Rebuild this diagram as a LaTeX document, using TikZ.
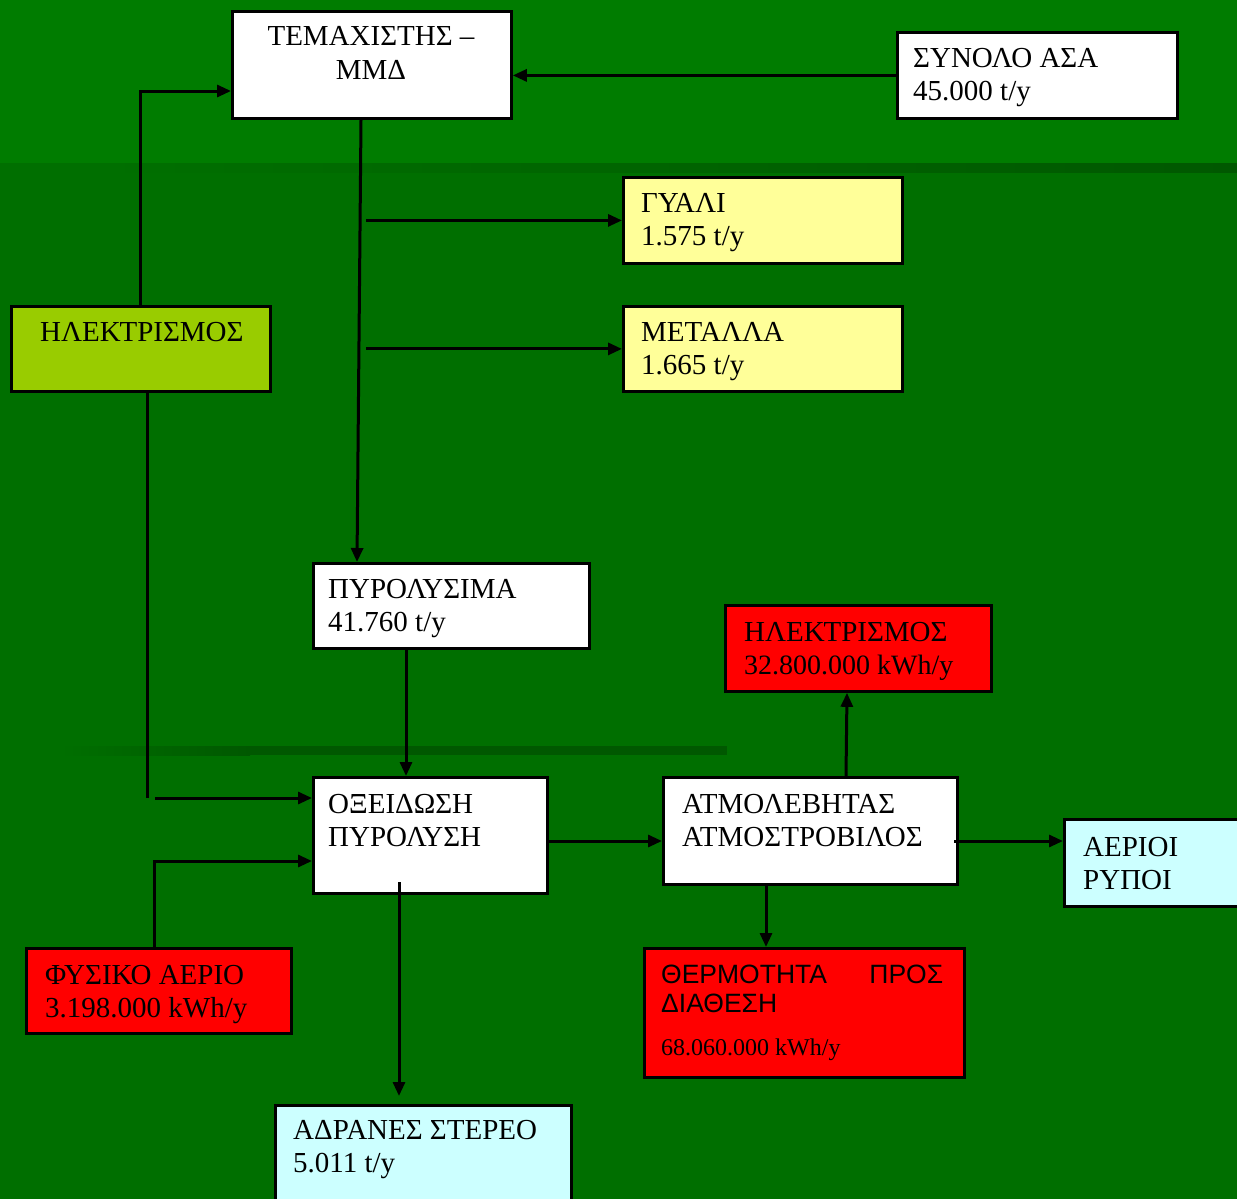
\documentclass[tikz,border=0pt]{standalone}
\usepackage{fontspec}
\setmainfont{Liberation Serif}
\newfontfamily\sansf{Liberation Sans}
\usetikzlibrary{arrows.meta}
\definecolor{topg}{RGB}{0,124,0}
\definecolor{lowg}{RGB}{0,111,0}
\definecolor{darkg}{RGB}{0,88,0}
\definecolor{yel}{RGB}{255,255,153}
\definecolor{lime}{RGB}{153,204,0}
\definecolor{lcyan}{RGB}{204,255,255}
\begin{document}
\begin{tikzpicture}[x=1pt,y=-1pt,
  box/.style={draw=black,line width=2.8pt,anchor=north west,inner sep=0pt},
  conn/.style={line width=3pt,-{Triangle[length=14pt,width=12pt]}},
  plain/.style={line width=3pt},
  txt/.style={anchor=base west,inner sep=0pt,font=\fontsize{29}{34}\selectfont},
  txtc/.style={anchor=base,inner sep=0pt,font=\fontsize{29}{34}\selectfont}]
\useasboundingbox (0,0) rectangle (1237,1199);
% background
\fill[topg] (0,0) rectangle (1237,163);
\fill[lowg] (0,163) rectangle (1237,1199);
\shade[left color=lowg,right color=darkg] (100,163) rectangle (1237,172);
\shade[left color=lowg,right color=darkg] (60,746) rectangle (250,755);
\fill[darkg] (250,746) rectangle (727,755);
% boxes
\node[box,fill=white,minimum width=279pt,minimum height=107pt] (tem) at (231,10) {};
\node[box,fill=white,minimum width=280pt,minimum height=86pt] (sum) at (896,31) {};
\node[box,fill=yel,minimum width=279pt,minimum height=86pt] (gya) at (622,176) {};
\node[box,fill=yel,minimum width=279pt,minimum height=85pt] (met) at (622,305) {};
\node[box,fill=lime,minimum width=259pt,minimum height=85pt] (el) at (10,305) {};
\node[box,fill=white,minimum width=276pt,minimum height=85pt] (pyr) at (312,562) {};
\node[box,fill=red,minimum width=266pt,minimum height=86pt] (elr) at (724,604) {};
\node[box,fill=white,minimum width=234pt,minimum height=116pt] (ox) at (312,776) {};
\node[box,fill=white,minimum width=294pt,minimum height=107pt] (atm) at (662,776) {};
\node[box,fill=lcyan,minimum width=190pt,minimum height=87pt] (aer) at (1063,818) {};
\node[box,fill=red,minimum width=265pt,minimum height=85pt] (fys) at (25,947) {};
\node[box,fill=red,minimum width=320pt,minimum height=129pt] (the) at (643,947) {};
\node[box,fill=lcyan,minimum width=296pt,minimum height=110pt] (adr) at (274,1104) {};
% texts
\node[txtc] (tem1) at (371,46) {ΤΕΜΑΧΙΣΤΗΣ –};
\node[txtc] (tem2) at (371,80) {ΜΜΔ};
\node[txt] (sum1) at (913,67) {ΣΥΝΟΛΟ ΑΣΑ};
\node[txt] (sum2) at (913,100) {45.000 t/y};
\node[txt] (gya1) at (641,212) {ΓΥΑΛΙ};
\node[txt] (gya2) at (641,245) {1.575 t/y};
\node[txt] (met1) at (641,341) {ΜΕΤΑΛΛΑ};
\node[txt] (met2) at (641,374) {1.665 t/y};
\node[txt] (el1) at (40,341) {ΗΛΕΚΤΡΙΣΜΟΣ};
\node[txt] (pyr1) at (328,598) {ΠΥΡΟΛΥΣΙΜΑ};
\node[txt] (pyr2) at (328,631) {41.760 t/y};
\node[txt] (elr1) at (744,641) {ΗΛΕΚΤΡΙΣΜΟΣ};
\node[txt,font=\fontsize{28}{34}\selectfont] (elr2) at (744,674) {32.800.000 kWh/y};
\node[txt] (ox1) at (328,813) {ΟΞΕΙΔΩΣΗ};
\node[txt] (ox2) at (328,846) {ΠΥΡΟΛΥΣΗ};
\node[txt] (atm1) at (682,813) {ΑΤΜΟΛΕΒΗΤΑΣ};
\node[txt] (atm2) at (682,846) {ΑΤΜΟΣΤΡΟΒΙΛΟΣ};
\node[txt] (aer1) at (1083,856) {ΑΕΡΙΟΙ};
\node[txt] (aer2) at (1083,889) {ΡΥΠΟΙ};
\node[txt] (fys1) at (45,984) {ΦΥΣΙΚΟ ΑΕΡΙΟ};
\node[txt] (fys2) at (45,1017) {3.198.000 kWh/y};
\node[txt,font=\sansf\fontsize{26.5}{30}\selectfont,text width=282pt,align=left] (the1) at (661,983) {ΘΕΡΜΟΤΗΤΑ\hfill ΠΡΟΣ};
\node[txt,font=\sansf\fontsize{26.5}{30}\selectfont] (the2) at (661,1012) {ΔΙΑΘΕΣΗ};
\node[txt,font=\fontsize{24}{28}\selectfont] (the3) at (661,1055) {68.060.000 kWh/y};
\node[txt] (adr1) at (293,1139) {ΑΔΡΑΝΕΣ ΣΤΕΡΕΟ};
\node[txt] (adr2) at (293,1172) {5.011 t/y};
% coordinates
\coordinate (e1) at (147,798);
\coordinate (e2) at (155,798);
\coordinate (o1) at (399,882);
\coordinate (a1) at (399,1096);
% connectors
\draw[conn] (sum.west) -- (sum.west -| tem.east);
\draw[conn] (140,0 |- el.north) |- (tem.west |- 0,91);
\draw[conn] (361,0 |- tem.south) -- (357,0 |- pyr.north);
\draw[conn] (366,0 |- gya.west) -- (gya.west);
\draw[conn] (366,0 |- met.west) -- (met.west);
\draw[plain] (147,0 |- el.south) -- (e1);
\draw[conn] (e2) -- (e2 -| ox.west);
\draw[conn] (406,0 |- pyr.south) -- (406,0 |- ox.north);
\draw[conn] (154,0 |- fys.north) |- (ox.west |- 0,861);
\draw[conn] (o1) -- (a1);
\draw[conn] (ox.east |- 0,841) -- (atm.west |- 0,841);
\draw[conn] (846,0 |- atm.north) -- (847,0 |- elr.south);
\draw[conn] (766,0 |- atm.south) -- (766,0 |- the.north);
\draw[conn] (954,841) -- (aer.west |- 0,841);
\end{tikzpicture}
\end{document}
